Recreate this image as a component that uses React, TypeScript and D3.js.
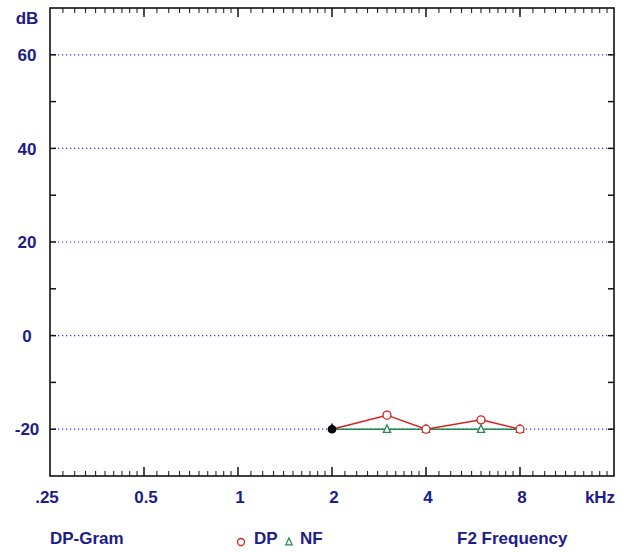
import React from "react";
import * as d3 from "d3";

const width = 624;
const height = 552;
const margin = { top: 8, right: 10, bottom: 76, left: 50 };
const plotWidth = width - margin.left - margin.right;
const plotHeight = height - margin.top - margin.bottom;

// data
const frequencies = [2, 3, 4, 6, 8];
const dpValues = [-20, -17, -20, -18, -20];
const nfValues = [-20, -20, -20, -20, -20];
const xTickValues = [0.25, 0.5, 1, 2, 4, 8];
const xTickLabels = [".25", "0.5", "1", "2", "4", "8"];
const yGridValues = [60, 40, 20, 0, -20];

const textColor = "#1c1c8a";
const font = "'Liberation Sans', Arial, sans-serif";

const x = d3.scaleLog().domain([0.25, 16]).range([0, plotWidth]);
const y = d3.scaleLinear().domain([-30, 70]).range([plotHeight, 0]);

// minor ticks: f0 * (1 + k/10) inside every octave
const minorTicks: number[] = [];
xTickValues.forEach(f0 => {
  for (let k = 1; k <= 9; k++) minorTicks.push(f0 * (1 + k / 10));
});
const yTicks = d3.range(-20, 70, 10);

const line = d3.line<[number, number]>()
  .x(d => x(d[0]))
  .y(d => y(d[1]));

const dpPoints = frequencies.map((f, i) => [f, dpValues[i]] as [number, number]);
const nfPoints = frequencies.map((f, i) => [f, nfValues[i]] as [number, number]);

const triangle = (cx: number, cy: number, s: number) =>
  `M${cx},${cy - s}L${cx + s * 0.8},${cy + s * 0.7}L${cx - s * 0.8},${cy + s * 0.7}Z`;

export default function App() {
  return (
    <svg width={width} height={height} style={{ position: "absolute", left: 0, top: 0, background: "#fff" }}
      fontFamily={font} fontWeight="bold" fontSize={17} fill={textColor}>
      <g transform={`translate(${margin.left},${margin.top})`}>
        {/* grid */}
        {yGridValues.map(v => (
          <line key={v} x1={0} x2={plotWidth} y1={y(v)} y2={y(v)} stroke="#2a2aff" strokeWidth={1.2} strokeDasharray="1.2 2.8" />
        ))}

        {/* y ticks, both sides */}
        {yTicks.map(v => (
          <g key={v}>
            <line x1={0} x2={6} y1={y(v)} y2={y(v)} stroke="#111" strokeWidth={1.5} />
            <line x1={plotWidth - 6} x2={plotWidth} y1={y(v)} y2={y(v)} stroke="#111" strokeWidth={1.5} />
          </g>
        ))}

        {/* x ticks, top and bottom */}
        {minorTicks.map((f, i) => (
          <g key={i}>
            <line x1={x(f)} x2={x(f)} y1={0} y2={5} stroke="#111" strokeWidth={1} />
            <line x1={x(f)} x2={x(f)} y1={plotHeight - 5} y2={plotHeight} stroke="#111" strokeWidth={1} />
          </g>
        ))}
        {xTickValues.slice(1).map(f => (
          <g key={f}>
            <line x1={x(f)} x2={x(f)} y1={0} y2={9} stroke="#111" strokeWidth={1.5} />
            <line x1={x(f)} x2={x(f)} y1={plotHeight - 9} y2={plotHeight} stroke="#111" strokeWidth={1.5} />
          </g>
        ))}

        {/* frame */}
        <rect x={0} y={0} width={plotWidth} height={plotHeight} fill="none" stroke="#111" strokeWidth={1.6} />

        {/* series */}
        <path d={line(nfPoints) ?? ""} fill="none" stroke="#1f8a4c" strokeWidth={1.5} />
        <path d={line(dpPoints) ?? ""} fill="none" stroke="#d42020" strokeWidth={1.5} />
        {nfPoints.slice(1).map((d, i) => (
          <path key={i} d={triangle(x(d[0]), y(d[1]), 4.5)} fill="#fff" stroke="#1f8a4c" strokeWidth={1.3} />
        ))}
        {dpPoints.slice(1).map((d, i) => (
          <circle key={i} cx={x(d[0])} cy={y(d[1])} r={4} fill="#fff" stroke="#d42020" strokeWidth={1.3} />
        ))}
        {/* first point highlighted in black */}
        <path d={triangle(x(nfPoints[0][0]), y(nfPoints[0][1]) - 1.5, 5)} fill="#000" />
        <circle cx={x(dpPoints[0][0])} cy={y(dpPoints[0][1])} r={4.3} fill="#000" />

        {/* y labels */}
        {yGridValues.map(v => (
          <text key={v} x={-23} y={y(v)} dy="0.36em" textAnchor="middle">{v}</text>
        ))}
        <text x={-23} y={10} dy="0.36em" textAnchor="middle">dB</text>

        {/* x labels */}
        {xTickValues.map((f, i) => (
          <text key={f} x={x(f) - (i === 0 ? 3 : -2)} y={plotHeight + 21} dy="0.36em" textAnchor="middle">{xTickLabels[i]}</text>
        ))}
        <text x={550} y={plotHeight + 21} dy="0.36em" textAnchor="middle">kHz</text>
      </g>

      {/* footer legend */}
      <text x={50} y={538} dy="0.36em">DP-Gram</text>
      <circle cx={241} cy={542} r={3.5} fill="#fff" stroke="#d42020" strokeWidth={1.3} />
      <text x={254} y={538} dy="0.36em">DP</text>
      <path d={triangle(289, 542, 4)} fill="#fff" stroke="#1f8a4c" strokeWidth={1.2} />
      <text x={300} y={538} dy="0.36em">NF</text>
      <text x={457} y={538} dy="0.36em">F2 Frequency</text>
    </svg>
  );
}
